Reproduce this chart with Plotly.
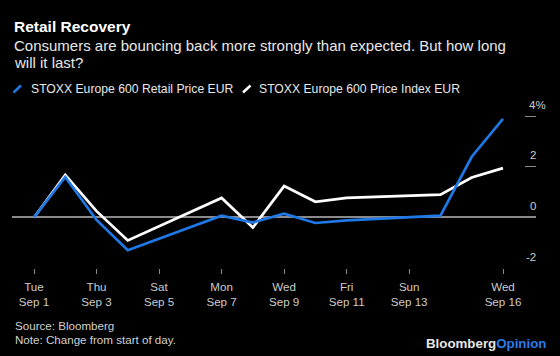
import plotly.graph_objects as go

# ---- data ----
dates = ["2020-09-01", "2020-09-02", "2020-09-03", "2020-09-04", "2020-09-07",
         "2020-09-08", "2020-09-09", "2020-09-10", "2020-09-11", "2020-09-14",
         "2020-09-15", "2020-09-16"]
retail = [0, 1.6, -0.1, -1.3, 0.07, -0.2, 0.15, -0.22, -0.12, 0.07, 2.4, 3.9]
index600 = [0, 1.68, 0.25, -0.91, 0.77, -0.4, 1.24, 0.62, 0.77, 0.9, 1.58, 1.95]

tick_dates = ["2020-09-01", "2020-09-03", "2020-09-05", "2020-09-07",
              "2020-09-09", "2020-09-11", "2020-09-13", "2020-09-16"]
tick_text = ["Tue<br>Sep 1", "Thu<br>Sep 3", "Sat<br>Sep 5", "Mon<br>Sep 7",
             "Wed<br>Sep 9", "Fri<br>Sep 11", "Sun<br>Sep 13", "Wed<br>Sep 16"]
y_ticks = [-2, 0, 2, 4]
y_tick_text = ["-2", "0", "2", "4"]

series_names = ["STOXX Europe 600 Retail Price EUR", "STOXX Europe 600 Price Index EUR"]

BLUE = "#1e78e6"
WHITE = "#ffffff"
FONT = "Liberation Sans, Arial, sans-serif"

W, H = 560, 356
L, R, T, B = 12, 536, 112, 268


def px(x):
    return (x - L) / (R - L)


def py(y):
    return (B - y) / (B - T)


fig = go.Figure()
fig.add_trace(go.Scatter(x=dates, y=index600, mode="lines", name=series_names[1],
                         line=dict(color=WHITE, width=2.7), showlegend=False))
fig.add_trace(go.Scatter(x=dates, y=retail, mode="lines", name=series_names[0],
                         line=dict(color=BLUE, width=2.7), showlegend=False))

annotations = []


def txt(text, x, y, size, color, xanchor="left", bold=False):
    annotations.append(dict(text=("<b>%s</b>" % text) if bold else text,
                            xref="paper", yref="paper", x=px(x), y=py(y),
                            xanchor=xanchor, yanchor="middle", showarrow=False,
                            font=dict(family=FONT, size=size, color=color)))


txt("Retail Recovery", 12, 27, 15.5, "#ffffff", bold=True)
txt("Consumers are bouncing back more strongly than expected. But how long", 12, 45.3, 15, "#e8e8e8")
txt("will it last?", 12, 62, 15, "#e8e8e8")
txt(series_names[0], 28.5, 89.2, 12.2, "#e8e8e8")
txt(series_names[1], 257, 89.2, 12.2, "#e8e8e8")
txt("Source: Bloomberg", 12.5, 325.8, 11.6, "#d0d0d0")
txt("Note: Change from start of day.", 12.5, 339.2, 11.6, "#d0d0d0")
annotations.append(dict(
    text="<b><span style='color:#e6e6e6'>Bloomberg</span><span style='color:#2a7de9'>Opinion</span></b>",
    xref="paper", yref="paper", x=px(548), y=py(343.3), xanchor="right", yanchor="middle",
    showarrow=False, font=dict(family=FONT, size=13.3, color="#e6e6e6")))

# y tick labels above the tick marks, right-aligned
for v, t in zip(y_ticks, y_tick_text):
    annotations.append(dict(text=t + ("%" if v == max(y_ticks) else ""),
                            xref="paper", yref="y", x=px(547.5 if v == max(y_ticks) else 537.5),
                            y=v, yshift=11.5, xanchor="right", yanchor="middle",
                            showarrow=False,
                            font=dict(family=FONT, size=11.5, color="#cccccc")))

shapes = [
    dict(type="line", xref="paper", yref="paper", x0=px(13.5), y0=py(92.5), x1=px(21), y1=py(85.5),
         line=dict(color=BLUE, width=2.5)),
    dict(type="line", xref="paper", yref="paper", x0=px(243), y0=py(92.5), x1=px(250.5), y1=py(85.5),
         line=dict(color=WHITE, width=2.5)),
]

fig.update_layout(
    width=W, height=H,
    margin=dict(l=L, r=W - R, t=T, b=H - B),
    paper_bgcolor="#000000", plot_bgcolor="#000000",
    showlegend=False,
    annotations=annotations,
    shapes=shapes,
    xaxis=dict(type="date", range=["2020-08-31 07:07", "2020-09-17 01:20"],
               tickvals=tick_dates, ticktext=tick_text,
               ticks="outside", ticklen=5, tickcolor="#8a8a8a", tickwidth=1,
               ticklabelstandoff=3,
               showgrid=False, showline=False, zeroline=False,
               tickfont=dict(family=FONT, size=11.6, color="#cccccc")),
    yaxis=dict(range=[-2, 4.17], side="right", tickvals=y_ticks,
               ticks="inside", ticklen=11, tickcolor="#8a8a8a", tickwidth=1,
               showticklabels=False, showgrid=False, showline=False,
               zeroline=True, zerolinecolor="#8a8a8a", zerolinewidth=1.5),
)

fig.write_html("out.html", config={"displayModeBar": False},
               post_script="document.body.style.margin='0';document.body.style.background='#000';")
